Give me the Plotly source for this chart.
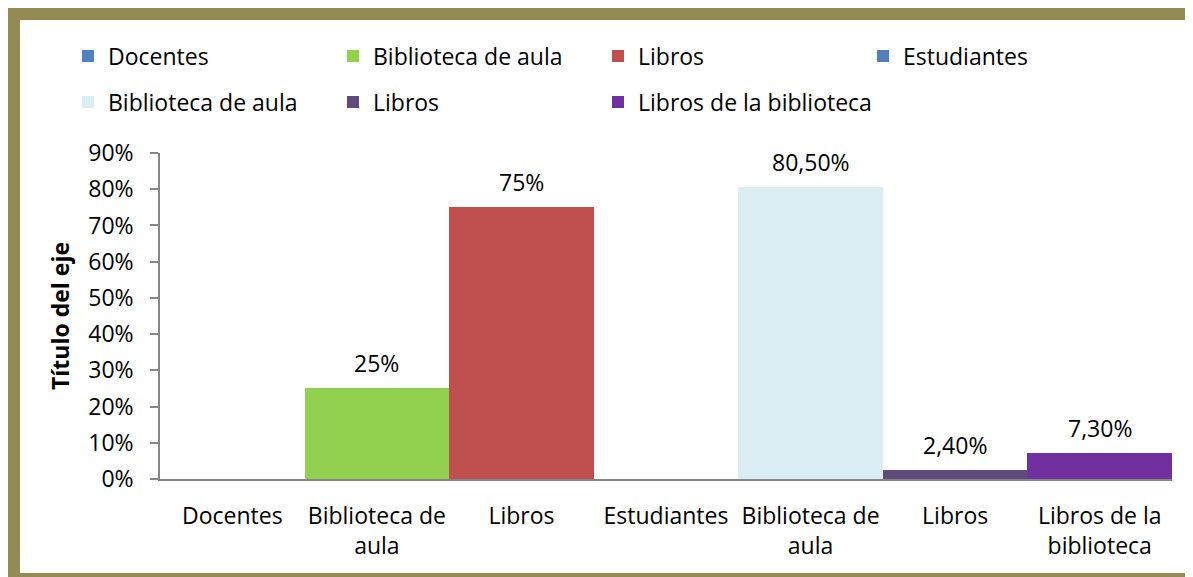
import plotly.graph_objects as go

# ---- data ----
series_names = ["Docentes", "Biblioteca de aula", "Libros", "Estudiantes",
                "Biblioteca de aula", "Libros", "Libros de la biblioteca"]
category_labels = ["Docentes", "Biblioteca de<br>aula", "Libros", "Estudiantes",
                   "Biblioteca de<br>aula", "Libros", "Libros de la<br>biblioteca"]
values = [None, 0.25, 0.75, None, 0.805, 0.024, 0.073]
value_labels = ["", "25%", "75%", "", "80,50%", "2,40%", "7,30%"]
colors = ["#4F81BD", "#92D050", "#C0504D", "#4F81BD", "#DAEEF3", "#604A7B", "#7030A0"]
legend_ids = ["legend", "legend", "legend", "legend", "legend2", "legend2", "legend3"]
y_ticks = [0, 0.1, 0.2, 0.3, 0.4, 0.5, 0.6, 0.7, 0.8, 0.9]

FONT = "Open Sans"
FS = 23

# page body has an 8px margin; figure fills the rest of the window
OFF = 8
W, H = 1185, 569
ML, MT = 152, 145
PW, PH = 1012, 326
MR = W - ML - PW
MB = H - MT - PH


def px_x(p):
    """reference screen pixel -> paper x"""
    return (p - OFF - ML) / PW


def px_y(p):
    """reference screen pixel -> paper y"""
    return (MT + PH - (p - OFF)) / PH


fig = go.Figure()
for i, (name, v, c, lg) in enumerate(zip(series_names, values, colors, legend_ids)):
    fig.add_trace(go.Bar(
        x=[i], y=[v], name=name, width=1.0,
        marker=dict(color=c, line=dict(width=0)),
        legend=lg, hoverinfo="skip",
    ))

annotations = []
for i, (v, t) in enumerate(zip(values, value_labels)):
    if v is None or not t:
        continue
    annotations.append(dict(
        x=i, y=v, xref="x", yref="y", text=t, showarrow=False,
        yanchor="middle", yshift=25, font=dict(family=FONT, size=FS, color="#000000"),
    ))

BORDER = "#948A54"
frame = dict(type="line", xref="paper", yref="paper",
             line=dict(color=BORDER, width=12), layer="above")
shapes = [
    dict(frame, x0=px_x(8), x1=px_x(1260), y0=px_y(14), y1=px_y(14)),    # top
    dict(frame, x0=px_x(14), x1=px_x(14), y0=px_y(8), y1=px_y(590)),     # left
    dict(frame, x0=px_x(8), x1=px_x(1260), y0=px_y(579), y1=px_y(579)),  # bottom
]

legend_common = dict(
    orientation="h", xref="paper", yref="paper",
    xanchor="left", yanchor="middle",
    entrywidth=220, entrywidthmode="pixels",
    font=dict(family=FONT, size=FS, color="#000000"),
    bgcolor="rgba(0,0,0,0)", itemclick=False, itemdoubleclick=False,
    traceorder="normal",
)

fig.update_layout(
    width=W, height=H,
    margin=dict(l=ML, r=MR, t=MT, b=MB, autoexpand=False),
    paper_bgcolor="white", plot_bgcolor="white",
    barmode="overlay", bargap=0,
    font=dict(family=FONT, size=FS, color="#000000"),
    showlegend=True,
    legend=dict(legend_common, x=px_x(68), y=px_y(56)),
    legend2=dict(legend_common, x=px_x(68), y=px_y(102)),
    legend3=dict(legend_common, x=px_x(598), y=px_y(102), entrywidth=300),
    xaxis=dict(
        range=[-0.5, 6.5], tickmode="array",
        tickvals=list(range(len(category_labels))), ticktext=category_labels,
        showline=True, linecolor="#868686", linewidth=1.5,
        ticks="", showgrid=False, zeroline=False, fixedrange=True,
        ticklabelstandoff=16,
        tickfont=dict(family=FONT, size=FS, color="#000000"),
    ),
    yaxis=dict(
        range=[0, 0.9], tickmode="array", tickvals=y_ticks, tickformat=".0%",
        showline=True, linecolor="#868686", linewidth=1.5,
        ticks="outside", ticklen=8, tickcolor="#868686", tickwidth=1.5,
        showgrid=False, zeroline=False, fixedrange=True,
        ticklabelstandoff=12,
        tickfont=dict(family=FONT, size=FS, color="#000000"),
        title=dict(text="<b>Título del eje</b>", standoff=12,
                   font=dict(family=FONT, size=FS, color="#000000")),
    ),
    annotations=annotations,
    shapes=shapes,
)

fig.write_html(
    "out.html",
    config={"displayModeBar": False},
    post_script="document.documentElement.style.overflow='hidden';"
                "document.body.style.overflow='hidden';",
)
